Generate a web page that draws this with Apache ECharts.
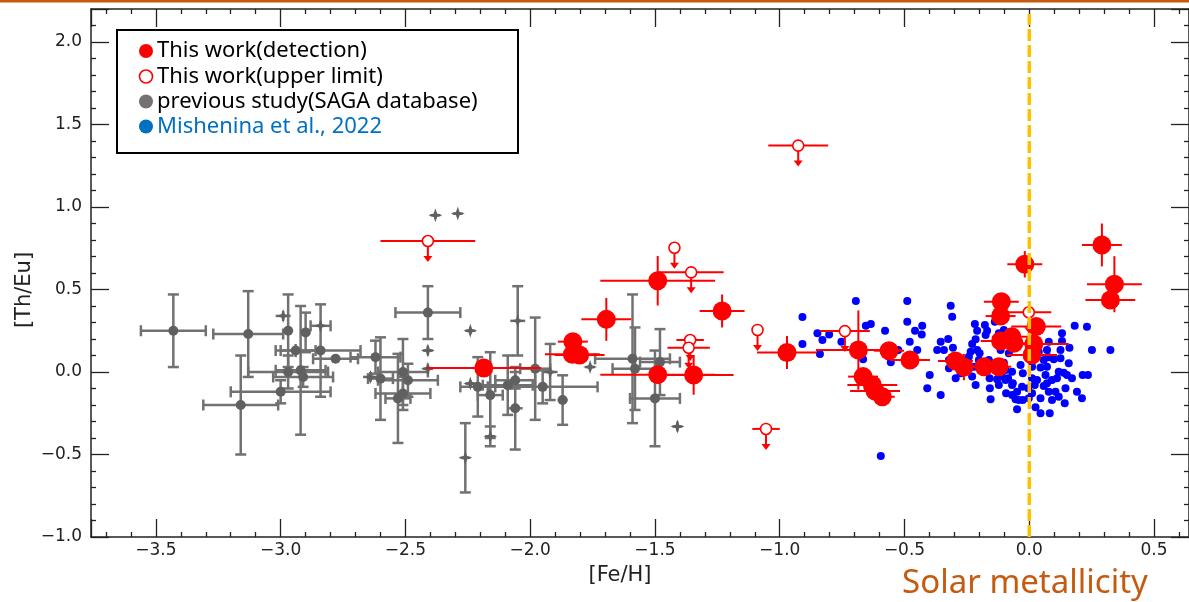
<!DOCTYPE html>
<html><head><meta charset="utf-8">
<script src="https://cdn.jsdelivr.net/npm/echarts@6/dist/echarts.min.js"></script>
<style>html,body{margin:0;padding:0;background:#fff}#c{width:1189px;height:602px}</style>
</head><body><div id="c"></div>
<script>
// ---- data ----
// This work (detection): [Fe/H], [Th/Eu], xerr, yerr
const detections = [
[-2.186,0.024,0.23,0.03],[-1.829,0.184,0.06,0.04],[-1.831,0.107,0.11,0.04],[-1.802,0.103,0.10,0.04],
[-1.695,0.319,0.10,0.13],[-1.489,0.553,0.23,0.15],[-1.231,0.37,0.09,0.10],[-1.489,-0.016,0.23,0.04],
[-1.345,-0.018,0.16,0.12],[-0.971,0.118,0.12,0.10],[-0.685,0.133,0.17,0.24],[-0.666,-0.028,0.06,0.04],
[-0.629,-0.079,0.10,0.04],[-0.618,-0.115,0.10,0.04],[-0.589,-0.15,0.05,0.04],[-0.562,0.129,0.06,0.04],
[-0.478,0.073,0.08,0.04],[-0.296,0.067,0.07,0.04],[-0.262,0.03,0.05,0.08],[-0.181,0.032,0.05,0.04],
[-0.122,0.032,0.05,0.04],[-0.112,0.426,0.07,0.04],[-0.115,0.339,0.06,0.04],[-0.115,0.188,0.08,0.04],
[-0.07,0.214,0.08,0.04],[-0.062,0.174,0.06,0.04],[0.028,0.276,0.10,0.04],[0.018,0.17,0.14,0.04],
[0.011,0.103,0.10,0.04],[-0.018,0.653,0.07,0.08],[0.291,0.77,0.08,0.13],[0.341,0.532,0.11,0.17],
[0.325,0.436,0.10,0.04]
];
// This work (upper limit): [Fe/H], [Th/Eu] limit, xerr
const upperLimits = [
[-2.41,0.794,0.19],[-1.422,0.753,0],[-1.355,0.604,0.13],[-1.359,0.194,0.055],[-1.365,0.147,0.085],
[-1.089,0.255,0],[-1.055,-0.345,0.055],[-0.926,1.372,0.12],[-0.739,0.248,0.10],[-0.002,0.362,0.09]
];
// previous study (SAGA database), circles: x, y, xerr, yerr
const sagaCircles = [
[-3.43,0.25,0.13,0.22],[-3.13,0.23,0.14,0.26],[-3.16,-0.20,0.15,0.30],[-2.97,0.25,0.02,0.22],
[-2.97,0.00,0.16,0.10],[-2.94,0.13,0.08,0.04],[-2.90,0.24,0.02,0.12],[-2.92,0.01,0.10,0.39],
[-2.91,-0.03,0.12,0.06],[-3.00,-0.12,0.20,0.07],[-2.84,0.13,0.16,0.28],[-2.78,0.08,0.09,0.02],
[-2.62,0.09,0.10,0.10],[-2.60,-0.04,0.05,0.25],[-2.51,0.00,0.10,0.20],[-2.49,-0.05,0.12,0.10],
[-2.51,-0.13,0.11,0.10],[-2.53,-0.16,0.05,0.27],[-2.41,0.36,0.13,0.16],[-2.21,-0.09,0.07,0.18],
[-2.16,-0.14,0.05,0.26],[-2.09,-0.08,0.10,0.18],[-2.06,-0.05,0.08,0.05],[-2.06,-0.22,0.03,0.25],
[-1.98,0.02,0.06,0.31],[-1.95,-0.09,0.22,0.10],[-1.87,-0.17,0.02,0.15],[-1.59,0.08,0.15,0.39],
[-1.58,0.02,0.09,0.25],[-1.50,-0.16,0.10,0.29],[-1.48,0.06,0.08,0.20]
];
// previous study (SAGA database), star markers: x, y, xerr, yerr
const sagaStars = [
[-2.99,0.34,0.03,0.03],[-2.84,0.28,0.04,0.03],[-2.64,-0.03,0.03,0.03],[-2.41,0.13,0.02,0.03],
[-2.41,0.02,0.02,0.03],[-2.38,0.95,0.02,0.02],[-2.29,0.96,0.02,0.02],[-2.24,0.25,0.02,0.02],
[-2.24,-0.07,0.02,0.02],[-2.16,-0.39,0.02,0.06],[-2.26,-0.52,0.02,0.21],[-2.05,0.31,0.03,0.21],
[-1.92,0.00,0.03,0.17],[-1.76,0.03,0.02,0.02],[-1.41,-0.33,0.02,0.03]
];
// Mishenina et al., 2022
const mishenina = [
[-0.695,0.43],[-0.489,0.43],[-0.909,0.333],[-0.315,0.402],[-0.309,0.335],[-0.489,0.305],[-0.429,0.281],[-0.458,0.25],[-0.431,0.228],[-0.655,0.281],[-0.635,0.291],[-0.578,0.25],[-0.849,0.235],[-0.829,0.194],[-0.802,0.228],[-0.753,0.184],[-0.909,0.17],[-0.839,0.109],[-0.666,0.077],[-0.555,0.059],[-0.525,0.133],[-0.479,0.184],[-0.449,0.133],[-0.355,0.184],[-0.325,0.2],[-0.306,0.147],[-0.369,0.133],[-0.399,-0.018],[-0.409,-0.099],[-0.355,-0.139],[-0.595,-0.509],[-0.322,0.022],[-0.218,0.291],[-0.178,0.285],[-0.209,0.25],[-0.169,0.25],[-0.215,0.198],[-0.229,0.17],[-0.235,0.123],[-0.242,0.093],[-0.199,0.113],[-0.162,0.073],[-0.229,-0.028],[-0.215,-0.079],[-0.158,-0.099],[-0.155,-0.165],[-0.109,-0.028],[-0.122,-0.079],[-0.095,0.012],[-0.085,-0.038],[-0.066,-0.068],[-0.049,-0.119],[-0.042,-0.17],[-0.049,-0.226],[-0.029,-0.089],[-0.026,-0.17],[0.011,-0.129],[0.025,-0.214],[0.045,-0.25],[0.045,-0.159],[0.082,-0.25],[0.091,-0.17],[0.078,-0.119],[0.118,-0.15],[0.142,-0.19],[0.145,-0.099],[0.191,-0.119],[0.211,-0.159],[0.111,-0.038],[0.151,-0.018],[0.171,-0.038],[0.214,-0.018],[0.235,-0.018],[0.138,-0.004],[0.158,0.053],[0.125,0.083],[0.125,0.133],[0.161,0.147],[0.131,0.188],[0.131,0.235],[0.182,0.281],[0.231,0.275],[0.251,0.133],[0.325,0.133],[0.078,0.184],[0.071,0.133],[0.078,0.089],[0.071,0.032],[0.045,0.028],[0.065,-0.018],[0.031,-0.048],[0.011,0.032],[0.011,-0.038],[-0.026,-0.008],[-0.035,0.042],[-0.069,0.002],[-0.102,0.056],[-0.082,0.113],[-0.115,0.133],[-0.102,0.184],[-0.122,0.235],[-0.102,0.255],[-0.138,0.305],[-0.175,0.224],[-0.209,0.133],[-0.202,0.073],[-0.255,0.028],[-0.275,-0.008],[-0.295,-0.038],[-0.322,0.073],[-0.249,0.073],[-0.222,0.032],[-0.162,0.022],[-0.159,-0.038],[-0.129,-0.044],[-0.095,-0.048],[-0.069,-0.079],[-0.093,-0.129],[-0.069,-0.139],[-0.055,-0.165],[-0.002,-0.159],[-0.005,-0.099],[0.022,-0.079],[0.058,-0.085],[0.105,-0.119],[0.071,-0.068],[0.091,-0.048],[0.058,0.073],[0.098,0.077],[0.118,0.002],[-0.342,0.133],[-0.042,0.182],[0.038,0.121]
];
const solarLine = [[0,-1],[0,2.17]];
const legendLabels = ['This work(detection)','This work(upper limit)','previous study(SAGA database)','Mishenina et al., 2022'];
const xTitle = '[Fe/H]', yTitle = '[Th/Eu]', noteText = 'Solar metallicity';

// ---- chart ----
const chart = echarts.init(document.getElementById('c'), null, {renderer:'canvas'});
const AX = '#222';
const fmt = v => (v < 0 ? '\u2212' : '') + Math.abs(v).toFixed(1);
function errRender(color, cap, lw){
  return function(params, api){
    const x=api.value(0), y=api.value(1), xe=api.value(2), ye=api.value(3);
    const c=api.coord([x,y]);
    const l=api.coord([x-xe,y]), r=api.coord([x+xe,y]), t=api.coord([x,y+ye]), b=api.coord([x,y-ye]);
    const st={stroke:color,lineWidth:lw};
    const ch=[
      {type:'line',shape:{x1:l[0],y1:l[1],x2:r[0],y2:r[1]},style:st},
      {type:'line',shape:{x1:t[0],y1:t[1],x2:b[0],y2:b[1]},style:st}
    ];
    if(cap){
      if(c[0]-l[0] > 8){
        ch.push({type:'line',shape:{x1:l[0],y1:l[1]-cap,x2:l[0],y2:l[1]+cap},style:st});
        ch.push({type:'line',shape:{x1:r[0],y1:r[1]-cap,x2:r[0],y2:r[1]+cap},style:st});
      }
      if(b[1]-c[1] > 8){
        ch.push({type:'line',shape:{x1:t[0]-cap,y1:t[1],x2:t[0]+cap,y2:t[1]},style:st});
        ch.push({type:'line',shape:{x1:b[0]-cap,y1:b[1],x2:b[0]+cap,y2:b[1]},style:st});
      }
    }
    return {type:'group',children:ch};
  };
}
function ulRender(params, api){
  const x=api.value(0), y=api.value(1), xe=api.value(2);
  const c=api.coord([x,y]);
  const st={stroke:'#ff0000',lineWidth:2};
  const ch=[];
  if(xe>0){
    const l=api.coord([x-xe,y]), r=api.coord([x+xe,y]);
    ch.push({type:'line',shape:{x1:l[0],y1:l[1],x2:r[0],y2:r[1]},style:st});
  }
  const L=21;
  ch.push({type:'line',shape:{x1:c[0],y1:c[1],x2:c[0],y2:c[1]+L-5},style:st});
  ch.push({type:'polygon',shape:{points:[[c[0]-4.5,c[1]+L-6],[c[0]+4.5,c[1]+L-6],[c[0],c[1]+L]]},style:{fill:'#ff0000'}});
  return {type:'group',children:ch};
}
const star='path://M0,-10 L2.4,-2.4 L10,0 L2.4,2.4 L0,10 L-2.4,2.4 L-10,0 L-2.4,-2.4 Z';
const tickStyle={color:AX,width:1.3};
function xAx(pos){
  return {type:'value',min:-3.76,max:0.64,splitNumber:9,minInterval:0.5,maxInterval:0.5,position:pos,
    axisLine:{show:true,onZero:false,lineStyle:{color:AX,width:1.5}},
    axisTick:{show:true,inside:true,length:18,lineStyle:tickStyle},
    minorTick:{show:true,splitNumber:5,length:5,lineStyle:tickStyle},
    splitLine:{show:false},
    axisLabel:{show:pos==='bottom',showMinLabel:false,showMaxLabel:false,formatter:fmt,
      fontFamily:'DejaVu Sans',fontSize:17,color:'#222',margin:5}};
}
function yAx(pos){
  return {type:'value',min:-1,max:2.2,interval:0.5,position:pos,
    axisLine:{show:true,onZero:false,lineStyle:{color:AX,width:1.5}},
    axisTick:{show:true,inside:true,length:18,lineStyle:tickStyle},
    minorTick:{show:true,splitNumber:5,length:5,lineStyle:tickStyle},
    splitLine:{show:false},
    axisLabel:{show:pos==='left',showMaxLabel:false,formatter:fmt,
      fontFamily:'DejaVu Sans',fontSize:17,color:'#222',margin:9}};
}
const legendY=[51,76.5,101.5,126.5];
const LF='22px "Noto Sans"';
const option={
  animation:false,
  backgroundColor:'#fff',
  grid:{left:91,top:9,width:1100,height:528,containLabel:false},
  xAxis:[xAx('bottom'),xAx('top')],
  yAxis:[yAx('left'),yAx('right')],
  series:[
    {type:'custom',renderItem:errRender('#717171',5.5,2.5),data:sagaCircles.concat(sagaStars),encode:{x:0,y:1},z:1,silent:true},
    {type:'scatter',data:sagaCircles.map(d=>[d[0],d[1]]),symbol:'circle',symbolSize:10,itemStyle:{color:'#606060',opacity:1},z:2,silent:true},
    {type:'scatter',data:sagaStars.map(d=>[d[0],d[1]]),symbol:star,symbolSize:14,itemStyle:{color:'#606060',opacity:1},z:2,silent:true},
    {type:'scatter',data:mishenina,symbol:'circle',symbolSize:8,itemStyle:{color:'#0000ff',opacity:1},z:3,silent:true},
    {type:'custom',renderItem:errRender('#ff0000',0,2),data:detections,encode:{x:0,y:1},z:4,silent:true},
    {type:'custom',renderItem:ulRender,data:upperLimits,encode:{x:0,y:1},z:4,silent:true},
    {type:'scatter',data:detections.map(d=>[d[0],d[1]]),symbol:'circle',symbolSize:19,itemStyle:{color:'#ff0000',opacity:1},z:5,silent:true},
    {type:'scatter',data:upperLimits.map(d=>[d[0],d[1]]),symbol:'circle',symbolSize:11,itemStyle:{color:'#ffffff',borderColor:'#ff0000',borderWidth:1.6,opacity:1},z:5,silent:true},
    {type:'line',data:solarLine,symbol:'none',lineStyle:{color:'#FFC000',width:3.5,type:[12,4]},z:10,silent:true}
  ],
  graphic:[
    {type:'rect',x:0,y:0,shape:{x:0,y:0,width:1189,height:2.5},style:{fill:'#C55A11'},z:100},
    {type:'rect',shape:{x:117,y:30,width:401,height:123},style:{fill:'#fff',stroke:'#000',lineWidth:2},z:100},
    {type:'circle',shape:{cx:146,cy:legendY[0],r:7},style:{fill:'#ff0000'},z:101},
    {type:'circle',shape:{cx:146,cy:legendY[1],r:6.5},style:{fill:'#fff',stroke:'#ff0000',lineWidth:1.6},z:101},
    {type:'circle',shape:{cx:146,cy:legendY[2],r:7},style:{fill:'#767171'},z:101},
    {type:'circle',shape:{cx:146,cy:legendY[3],r:7},style:{fill:'#0070C0'},z:101},
    {type:'text',x:157,y:legendY[0],style:{text:legendLabels[0],fill:'#000',font:LF,verticalAlign:'middle'},z:101},
    {type:'text',x:157,y:legendY[1],style:{text:legendLabels[1],fill:'#000',font:LF,verticalAlign:'middle'},z:101},
    {type:'text',x:157,y:legendY[2],style:{text:legendLabels[2],fill:'#000',font:LF,verticalAlign:'middle'},z:101},
    {type:'text',x:157,y:legendY[3],style:{text:legendLabels[3],fill:'#0070C0',font:LF,verticalAlign:'middle'},z:101},
    {type:'text',x:620,y:576,style:{text:xTitle,fill:'#222',font:'21px "DejaVu Sans"',align:'center',verticalAlign:'middle'},z:101},
    {type:'text',x:25,y:290,rotation:Math.PI/2,style:{text:yTitle,fill:'#222',font:'21px "DejaVu Sans"',align:'center',verticalAlign:'middle'},z:101},
    {type:'text',x:1025,y:584,style:{text:noteText,fill:'#C55A11',font:'33px "Noto Sans"',align:'center',verticalAlign:'middle'},z:101}
  ]
};
chart.setOption(option);
</script></body></html>
